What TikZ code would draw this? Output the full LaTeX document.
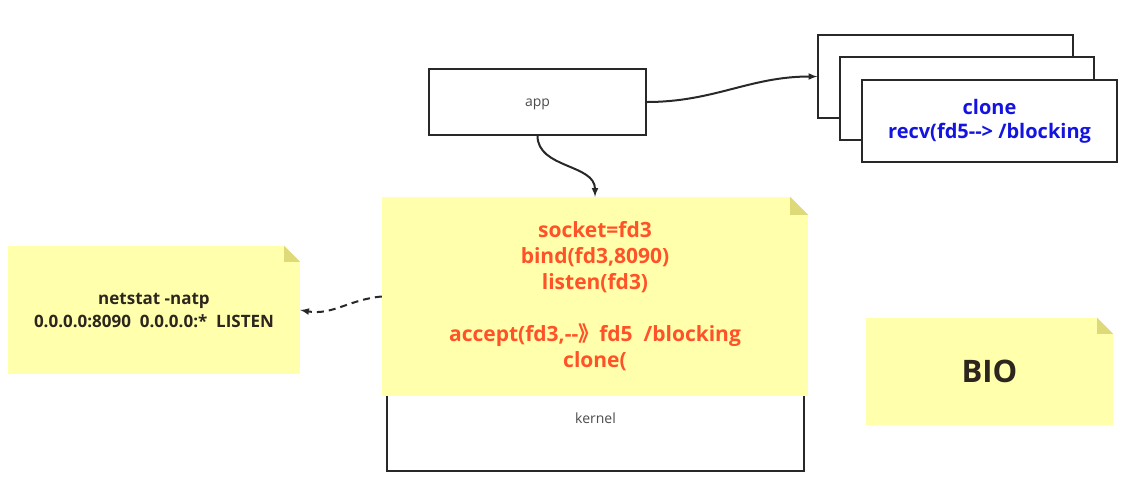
\documentclass[tikz,border=0pt]{standalone}
\usepackage{fontspec}
\setmainfont{Open Sans}
\newfontfamily\cjk{Noto Sans CJK SC}
\usepackage{tikz}

\definecolor{noteyellow}{RGB}{255,255,172}
\definecolor{notefold}{RGB}{222,218,122}
\definecolor{codered}{RGB}{255,82,40}
\definecolor{cloneblue}{RGB}{20,20,225}
\definecolor{notetext}{RGB}{45,38,30}
\definecolor{boxline}{RGB}{40,40,40}

% folded corner of a note: node name, size
\newcommand\fold[2]{
\fill[white] ([xshift=-#2pt]#1.north east) -- (#1.north east) -- ([yshift=-#2pt]#1.north east) -- cycle;
\fill[notefold] ([xshift=-#2pt]#1.north east) -- ([yshift=-#2pt]#1.north east) -- ([xshift=-#2pt,yshift=-#2pt]#1.north east) -- cycle;
}

\begin{document}
\begin{tikzpicture}[x=1pt, y=-1pt, >=latex]
\tikzstyle{block} = [draw=boxline, line width=1.4pt, rectangle, fill=white, inner sep=0pt]
\tikzstyle{note} = [rectangle, fill=noteyellow, inner sep=0pt, align=center]
\tikzstyle{conn} = [draw=boxline, line width=2pt]
\tikzstyle{lbl} = [text=black!70, font=\fontsize{14}{16}\selectfont]

\useasboundingbox (0,0) rectangle (1139,483);

    % user space
    \node [block, minimum width=217pt, minimum height=66pt] (app) at (537.5,102) {};
    \node [lbl] (apptxt) at ([yshift=-2pt]app.center) {app};

    % threads
    \node [block, minimum width=255pt, minimum height=83pt] (clone1) at (945.5,76.5) {};
    \node [block, minimum width=254pt, minimum height=83pt] (clone2) at (967,98.5) {};
    \node [block, minimum width=255pt, minimum height=82pt, align=center, text=cloneblue,
           font=\bfseries\fontsize{20}{24}\selectfont] (clone3) at (989.5,121) {clone\\recv(fd5-{}-> /blocking};

    % kernel
    \node [block, minimum width=417pt, minimum height=106pt] (kernel) at (595.5,418) {};
    \node [lbl] (kerneltxt) at (kernel) {kernel};

    \node [note, minimum width=426pt, minimum height=199pt, text=codered,
           font=\bfseries\fontsize{21}{26}\selectfont] (code) at (595,296.5)
          {socket=fd3\\bind(fd3,8090)\\listen(fd3)\\[26pt]accept(fd3,-{}-{\cjk 》}fd5\ \ /blocking\\clone(};
    \fold{code}{18}

    \node [note, minimum width=292pt, minimum height=128pt, text=notetext,
           font=\bfseries\fontsize{17}{23}\selectfont] (netstat) at (154,310)
          {netstat -natp\\0.0.0.0:8090\ \ 0.0.0.0:*\ \ LISTEN};
    \fold{netstat}{16}

    \node [note, minimum width=247pt, minimum height=107pt, text=notetext,
           font=\bfseries\fontsize{31}{36}\selectfont] (bio) at (989.5,371.5) {BIO};
    \fold{bio}{16}

    \draw [conn, line width=2pt, ->] (app.east) to[out=0, in=180] (clone1.west);
    \draw [conn, line width=2pt, ->] (app.south) to[out=-90, in=90] (code.north);
    \draw [conn, line width=2pt, ->, dash pattern=on 7pt off 5pt] (code.west) to[out=185, in=-10] (netstat.east);

\end{tikzpicture}
\end{document}
